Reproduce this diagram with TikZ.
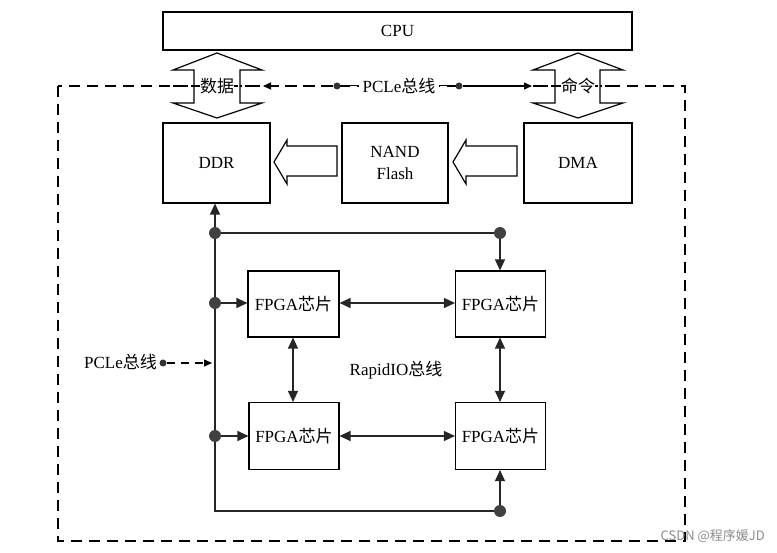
\documentclass[tikz,border=0pt]{standalone}
\usepackage{fontspec}
\setmainfont{Liberation Serif}
\newfontfamily\cjk{Noto Sans CJK SC}
\usetikzlibrary{arrows.meta}
\tikzset{
  box/.style={draw, line width=1.1pt, fill=white, inner sep=0pt, align=center, font=\fontsize{17}{22}\selectfont},
  lbl/.style={inner sep=1pt, font=\fontsize{17}{20}\selectfont},
  bus/.style={line width=1.2pt, draw=black!85},
  tip/.style={-{Triangle[length=11pt,width=10pt]}},
  tips/.style={{Triangle[length=11pt,width=10pt]}-{Triangle[length=11pt,width=10pt]}},
  dot/.style={circle, fill=black!75, inner sep=0pt, minimum size=12pt},
  sdot/.style={circle, fill=black!80, inner sep=0pt, minimum size=7pt},
  hollow/.style={draw, line width=1.2pt, fill=white},
  dsh/.style={line width=1.2pt, dash pattern=on 11pt off 7pt},
}
\begin{document}
\begin{tikzpicture}[x=1pt,y=-1pt]
\useasboundingbox (0,0) rectangle (777,553);
% outer dashed frame
\draw[dsh] (58,86) rectangle (685,541);
% boxes
\node[box, minimum width=469pt, minimum height=38pt] (cpu) at (397.5,31) {CPU};
\node[box, minimum width=107pt, minimum height=80pt] (ddr) at (216.5,163) {DDR};
\node[box, minimum width=106pt, minimum height=80pt] (nand) at (395,163) {NAND\\Flash};
\node[box, minimum width=108pt, minimum height=80pt] (dma) at (578,163) {DMA};
\node[box, minimum width=91pt, minimum height=66pt] (f1) at (293.5,304) {FPGA{\cjk 芯片}};
\node[box, minimum width=90pt, minimum height=66pt] (f2) at (500.5,304) {FPGA{\cjk 芯片}};
\node[box, minimum width=90pt, minimum height=67pt] (f3) at (294,436) {FPGA{\cjk 芯片}};
\node[box, minimum width=90pt, minimum height=67pt] (f4) at (500.5,436) {FPGA{\cjk 芯片}};
% double arrows CPU <-> DDR / DMA
\draw[hollow] (217,53) -- (262,70) -- (240,70) -- (240,103) -- (262,103) -- (217,118) -- (173,103) -- (194,103) -- (194,70) -- (173,70) -- cycle;
\draw[hollow] (578,53) -- (623,70) -- (600,70) -- (600,103) -- (623,103) -- (578,118) -- (533,103) -- (555,103) -- (555,70) -- (533,70) -- cycle;
\draw[dsh] (173,86) -- (262,86);
\draw[dsh] (533,86) -- (623,86);
\node[lbl, fill=white, inner sep=0pt] (sj) at (217,86) {\cjk 数据};
\node[lbl, fill=white, inner sep=0pt] (ml) at (578,86) {\cjk 命令};
% top PCIe bus label
\node[lbl, fill=white, inner sep=4pt] (pcie1) at (399,86) {PCLe{\cjk 总线}};
\node[sdot] (d1) at (337,86) {};
\node[sdot] (d2) at (459,86) {};
\draw[line width=1pt] (pcie1.west) -- (d1);
\draw[line width=1pt] (pcie1.east) -- (d2);
\coordinate (pl) at (263,86);
\coordinate (pr) at (532,86);
\draw[line width=1.1pt, dash pattern=on 11pt off 7pt, -{Triangle[length=8pt,width=7pt]}] (d1) -- (pl);
\draw[line width=1.1pt, -{Triangle[length=8pt,width=7pt]}] (d2) -- (pr);
% hollow arrows NAND->DDR, DMA->NAND
\draw[hollow] (274,162) -- (287,140) -- (287,146) -- (337,146) -- (337,176) -- (287,176) -- (287,184) -- cycle;
\draw[hollow] (453,162) -- (466,140) -- (466,146) -- (517,146) -- (517,176) -- (466,176) -- (466,184) -- cycle;
% bus
\node[dot] (b1) at (215,233) {};
\node[dot] (b2) at (500,233) {};
\node[dot] (b3) at (215,303) {};
\node[dot] (b4) at (215,436) {};
\node[dot] (b5) at (500,511) {};
\coordinate (c1) at (215,511);
\draw[bus, tip] (b1) -- (ddr.south -| b1);
\draw[bus] (b1) -- (b2);
\draw[bus, tip] (b2) -- (f2.north -| b2);
\draw[bus] (b1) -- (b3);
\draw[bus, tip] (b3) -- (f1.west |- b3);
\draw[bus] (b3) -- (b4);
\draw[bus, tip] (b4) -- (f3.west |- b4);
\draw[bus] (b4) -- (c1) -- (b5);
\draw[bus, tip] (b5) -- (f4.south -| b5);
% RapidIO links
\draw[bus, tips] (f1.east |- 0,303) -- (f2.west |- 0,303);
\draw[bus, tips] (f3.east |- 0,436) -- (f4.west |- 0,436);
\draw[bus, tips] (f1.south -| 293,0) -- (f3.north -| 293,0);
\draw[bus, tips] (f2.south -| b2) -- (f4.north -| b2);
\node[lbl] (rio) at (396,370) {RapidIO{\cjk 总线}};
% left PCIe label
\node[lbl, anchor=east] (pcie2) at (158,362) {PCLe{\cjk 总线}};
\node[sdot] (d3) at (163,363) {};
\coordinate (e3) at (212,363);
\draw[line width=1.1pt, dash pattern=on 8pt off 6pt, -{Triangle[length=8pt,width=7pt]}] (d3) -- (e3);
% watermark
\node[anchor=east, text=black!45, font=\cjk\fontsize{13}{15}\selectfont, inner sep=0pt] (wm) at (765,536) {CSDN @程序媛JD};
\end{tikzpicture}
\end{document}
